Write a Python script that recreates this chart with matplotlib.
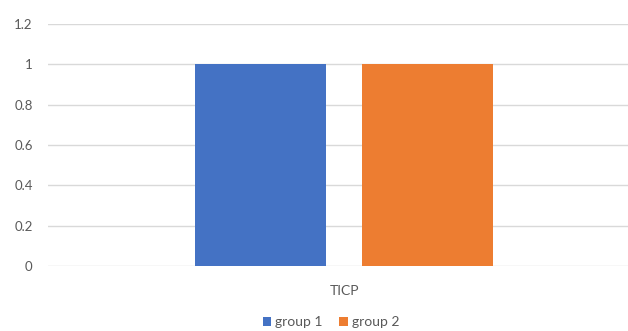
import numpy as np
import matplotlib.pyplot as plt

# Data
categories = ["TICP"]
series_names = ["group 1", "group 2"]
group1 = [1]
group2 = [1]
colors = ["#4472C4", "#ED7D31"]
yticks = [0, 0.2, 0.4, 0.6, 0.8, 1, 1.2]
ytick_labels = ["0", "0.2", "0.4", "0.6", "0.8", "1", "1.2"]

plt.rcParams["font.family"] = ["Lato", "DejaVu Sans"]

W, H = 628, 331
fig = plt.figure(figsize=(W / 100, H / 100), dpi=100)
# axes placed in pixel coordinates: left 48, bottom y=266, top y=24
ax = fig.add_axes([48 / W, (H - 266) / H, (W - 48) / W, (266 - 24) / H])

x = np.arange(len(categories))
width = 1.0
ax.bar(x - 0.64, group1, width, color=colors[0], label=series_names[0], zorder=3)
ax.bar(x + 0.64, group2, width, color=colors[1], label=series_names[1], zorder=3)

ax.set_xlim(-296 / 131, 284 / 131)
ax.set_ylim(0, 1.2)
ax.set_yticks(yticks)
ax.set_yticklabels(ytick_labels)
ax.set_xticks(x)
ax.set_xticklabels(categories)

ax.grid(axis="y", color="#D9D9D9", linewidth=1, zorder=0)
for s in ["top", "right", "left", "bottom"]:
    ax.spines[s].set_visible(False)
ax.tick_params(axis="both", length=0, colors="#595959", labelsize=9.5)
ax.tick_params(axis="y", pad=11)
ax.tick_params(axis="x", pad=14, labelsize=10)

leg = fig.legend(loc="center", bbox_to_anchor=(331 / W, (H - 322) / H), ncol=2,
                 frameon=False, fontsize=10, handlelength=0.6, handleheight=0.6,
                 handletextpad=0.3, columnspacing=1.2, labelcolor="#595959")

fig.savefig("out.png", dpi=100)
